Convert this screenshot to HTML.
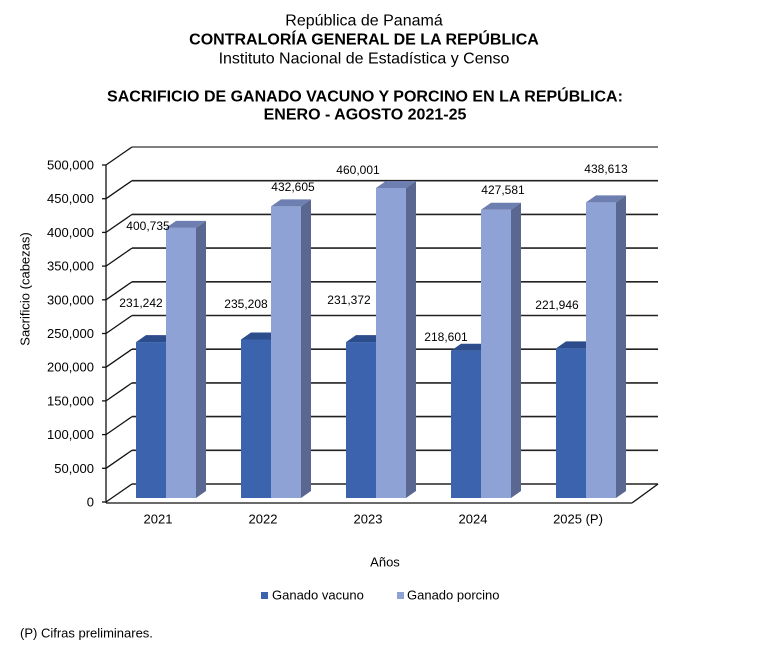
<!DOCTYPE html>
<html>
<head>
<meta charset="utf-8">
<style>
  html,body{margin:0;padding:0;background:#fff;}
  svg{display:block;}
  text{font-family:"Liberation Sans",Arial,sans-serif;fill:#000;}
</style>
</head>
<body>
<svg width="761" height="656" viewBox="0 0 761 656" xmlns="http://www.w3.org/2000/svg">
  <rect x="0" y="0" width="761" height="656" fill="#fff"/>

  <!-- Titles -->
  <text x="364" y="21" font-size="16" text-anchor="middle" dominant-baseline="central">República de Panamá</text>
  <text x="364" y="40" font-size="16" font-weight="bold" text-anchor="middle" dominant-baseline="central">CONTRALORÍA GENERAL DE LA REPÚBLICA</text>
  <text x="364" y="59" font-size="16" text-anchor="middle" dominant-baseline="central">Instituto Nacional de Estadística y Censo</text>
  <text x="365" y="97" font-size="16" font-weight="bold" text-anchor="middle" dominant-baseline="central">SACRIFICIO DE GANADO VACUNO Y PORCINO EN LA REPÚBLICA:</text>
  <text x="365" y="115" font-size="16" font-weight="bold" text-anchor="middle" dominant-baseline="central">ENERO - AGOSTO 2021-25</text>

  <!-- Back wall gridlines -->
  <g stroke="#222" stroke-width="1.6" fill="none">
    <line x1="132" y1="147" x2="658" y2="147" stroke="#555"/>
    <line x1="132" y1="180.7" x2="658" y2="180.7"/>
    <line x1="132" y1="214.4" x2="658" y2="214.4"/>
    <line x1="132" y1="248.1" x2="658" y2="248.1"/>
    <line x1="132" y1="281.8" x2="658" y2="281.8"/>
    <line x1="132" y1="315.5" x2="658" y2="315.5"/>
    <line x1="132" y1="349.2" x2="658" y2="349.2"/>
    <line x1="132" y1="382.9" x2="658" y2="382.9"/>
    <line x1="132" y1="416.6" x2="658" y2="416.6"/>
    <line x1="132" y1="450.3" x2="658" y2="450.3"/>
    <line x1="132" y1="484" x2="658" y2="484"/>
  </g>

  <!-- Left wall diagonals -->
  <g stroke="#111" stroke-width="1.3" fill="none">
    <line x1="106" y1="165" x2="132" y2="147"/>
    <line x1="106" y1="198.7" x2="132" y2="180.7"/>
    <line x1="106" y1="232.4" x2="132" y2="214.4"/>
    <line x1="106" y1="266.1" x2="132" y2="248.1"/>
    <line x1="106" y1="299.8" x2="132" y2="281.8"/>
    <line x1="106" y1="333.5" x2="132" y2="315.5"/>
    <line x1="106" y1="367.2" x2="132" y2="349.2"/>
    <line x1="106" y1="400.9" x2="132" y2="382.9"/>
    <line x1="106" y1="434.6" x2="132" y2="416.6"/>
    <line x1="106" y1="468.3" x2="132" y2="450.3"/>
    <line x1="106" y1="502" x2="132" y2="484"/>
    <!-- axis -->
    <line x1="106" y1="165" x2="106" y2="503"/>
    <!-- ticks -->
    <line x1="102" y1="165" x2="106" y2="165"/>
    <line x1="102" y1="198.7" x2="106" y2="198.7"/>
    <line x1="102" y1="232.4" x2="106" y2="232.4"/>
    <line x1="102" y1="266.1" x2="106" y2="266.1"/>
    <line x1="102" y1="299.8" x2="106" y2="299.8"/>
    <line x1="102" y1="333.5" x2="106" y2="333.5"/>
    <line x1="102" y1="367.2" x2="106" y2="367.2"/>
    <line x1="102" y1="400.9" x2="106" y2="400.9"/>
    <line x1="102" y1="434.6" x2="106" y2="434.6"/>
    <line x1="102" y1="468.3" x2="106" y2="468.3"/>
    <line x1="102" y1="502" x2="106" y2="502"/>
    <!-- floor -->
    <line x1="106" y1="503" x2="632" y2="503"/>
    <line x1="632" y1="503" x2="658" y2="484"/>
  </g>

  <!-- Y labels -->
  <g font-size="13" text-anchor="end">
    <text x="94" y="165" dominant-baseline="central">500,000</text>
    <text x="94" y="198.7" dominant-baseline="central">450,000</text>
    <text x="94" y="232.4" dominant-baseline="central">400,000</text>
    <text x="94" y="266.1" dominant-baseline="central">350,000</text>
    <text x="94" y="299.8" dominant-baseline="central">300,000</text>
    <text x="94" y="333.5" dominant-baseline="central">250,000</text>
    <text x="94" y="367.2" dominant-baseline="central">200,000</text>
    <text x="94" y="400.9" dominant-baseline="central">150,000</text>
    <text x="94" y="434.6" dominant-baseline="central">100,000</text>
    <text x="94" y="468.3" dominant-baseline="central">50,000</text>
    <text x="94" y="502" dominant-baseline="central">0</text>
  </g>

  <text x="25" y="289" font-size="13" text-anchor="middle" dominant-baseline="central" transform="rotate(-90 25 289)">Sacrificio (cabezas)</text>

  <!-- Bars -->
  <!-- 2021: x0=136 vac 231242 -> 342.1 ; por 400735 -> 227.9 -->
  <g>
    <rect x="136" y="342.1" width="30" height="155.9" fill="#3b63ae"/>
    <polygon points="136,342.1 146,335.1 176,335.1 166,342.1" fill="#2c4c8c"/>
    <rect x="166" y="227.9" width="30" height="270.1" fill="#8fa2d6"/>
    <polygon points="196,227.9 206,220.9 206,491 196,498" fill="#5a6790"/>
    <polygon points="166,227.9 176,220.9 206,220.9 196,227.9" fill="#6d7eb0"/>
  </g>
  <!-- 2022: x0=241 vac 235208 -> 339.5 ; por 432605 -> 206.4 -->
  <g>
    <rect x="241" y="339.5" width="30" height="158.5" fill="#3b63ae"/>
    <polygon points="241,339.5 251,332.5 281,332.5 271,339.5" fill="#2c4c8c"/>
    <rect x="271" y="206.4" width="30" height="291.6" fill="#8fa2d6"/>
    <polygon points="301,206.4 311,199.4 311,491 301,498" fill="#5a6790"/>
    <polygon points="271,206.4 281,199.4 311,199.4 301,206.4" fill="#6d7eb0"/>
  </g>
  <!-- 2023: x0=346 vac 231372 -> 342.1 ; por 460001 -> 188 -->
  <g>
    <rect x="346" y="342.1" width="30" height="155.9" fill="#3b63ae"/>
    <polygon points="346,342.1 356,335.1 386,335.1 376,342.1" fill="#2c4c8c"/>
    <rect x="376" y="188" width="30" height="310" fill="#8fa2d6"/>
    <polygon points="406,188 416,181 416,491 406,498" fill="#5a6790"/>
    <polygon points="376,188 386,181 416,181 406,188" fill="#6d7eb0"/>
  </g>
  <!-- 2024: x0=451 vac 218601 -> 350.7 ; por 427581 -> 209.8 -->
  <g>
    <rect x="451" y="350.7" width="30" height="147.3" fill="#3b63ae"/>
    <polygon points="451,350.7 461,343.7 491,343.7 481,350.7" fill="#2c4c8c"/>
    <rect x="481" y="209.8" width="30" height="288.2" fill="#8fa2d6"/>
    <polygon points="511,209.8 521,202.8 521,491 511,498" fill="#5a6790"/>
    <polygon points="481,209.8 491,202.8 521,202.8 511,209.8" fill="#6d7eb0"/>
  </g>
  <!-- 2025: x0=556 vac 221946 -> 348.4 ; por 438613 -> 202.4 -->
  <g>
    <rect x="556" y="348.4" width="30" height="149.6" fill="#3b63ae"/>
    <polygon points="556,348.4 566,341.4 596,341.4 586,348.4" fill="#2c4c8c"/>
    <rect x="586" y="202.4" width="30" height="295.6" fill="#8fa2d6"/>
    <polygon points="616,202.4 626,195.4 626,491 616,498" fill="#5a6790"/>
    <polygon points="586,202.4 596,195.4 626,195.4 616,202.4" fill="#6d7eb0"/>
  </g>

  <!-- Data labels -->
  <g font-size="12" text-anchor="middle">
    <text x="141" y="303" dominant-baseline="central">231,242</text>
    <text x="148" y="226" dominant-baseline="central">400,735</text>
    <text x="246" y="304" dominant-baseline="central">235,208</text>
    <text x="293" y="187" dominant-baseline="central">432,605</text>
    <text x="349" y="300" dominant-baseline="central">231,372</text>
    <text x="358" y="170" dominant-baseline="central">460,001</text>
    <text x="446" y="337" dominant-baseline="central">218,601</text>
    <text x="503" y="190" dominant-baseline="central">427,581</text>
    <text x="557" y="305" dominant-baseline="central">221,946</text>
    <text x="606" y="169" dominant-baseline="central">438,613</text>
  </g>

  <!-- X labels -->
  <g font-size="13" text-anchor="middle">
    <text x="158" y="519" dominant-baseline="central">2021</text>
    <text x="263" y="519" dominant-baseline="central">2022</text>
    <text x="368" y="519" dominant-baseline="central">2023</text>
    <text x="473" y="519" dominant-baseline="central">2024</text>
    <text x="578" y="519" dominant-baseline="central">2025 (P)</text>
  </g>

  <text x="385" y="562" font-size="13" text-anchor="middle" dominant-baseline="central">Años</text>

  <!-- Legend -->
  <rect x="261" y="592" width="7" height="7" fill="#3b63ae"/>
  <text x="272" y="595" font-size="13" dominant-baseline="central">Ganado vacuno</text>
  <rect x="397" y="592" width="7" height="7" fill="#8fa2d6"/>
  <text x="407" y="595" font-size="13" dominant-baseline="central">Ganado porcino</text>

  <!-- Footnote -->
  <text x="20" y="633" font-size="13" dominant-baseline="central">(P) Cifras preliminares.</text>
</svg>
</body>
</html>
